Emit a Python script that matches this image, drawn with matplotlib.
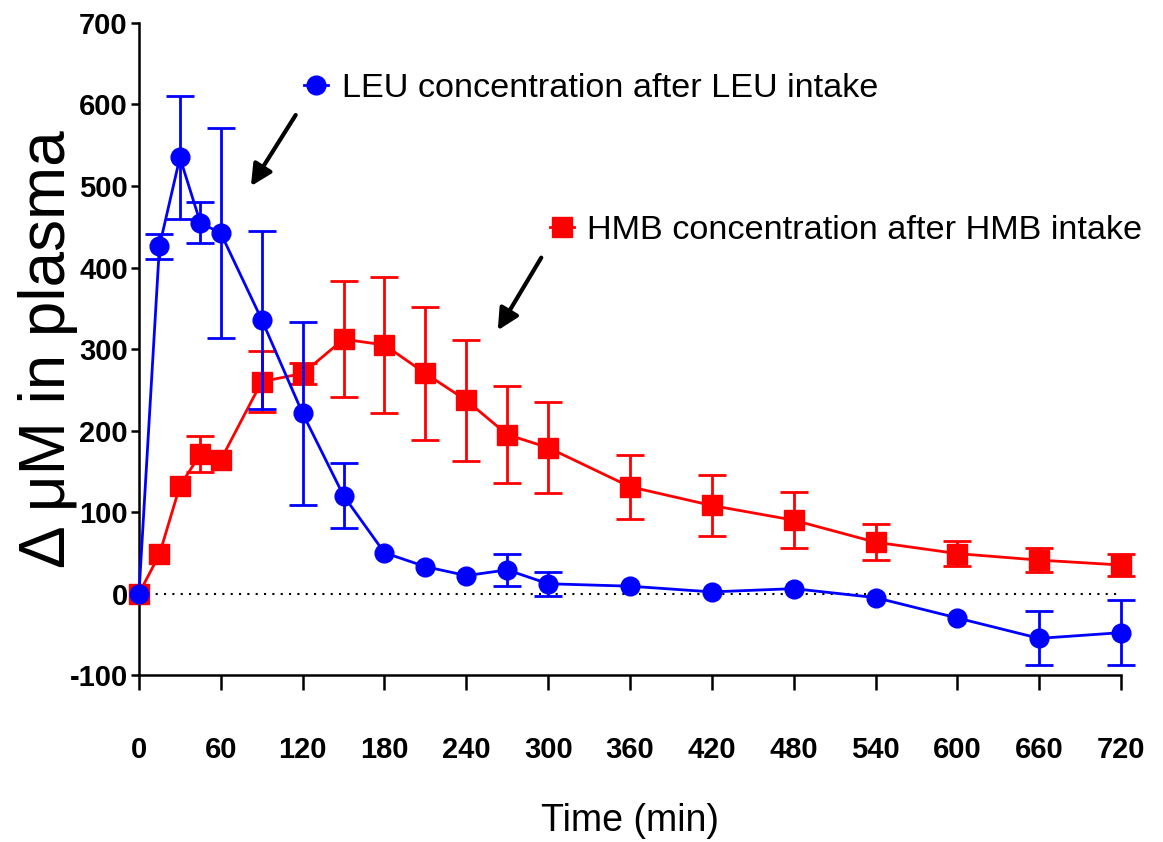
import numpy as np
import matplotlib
matplotlib.use("Agg")
import matplotlib.pyplot as plt
from matplotlib.lines import Line2D

plt.rcParams['font.family'] = ['Liberation Sans', 'DejaVu Sans']
plt.rcParams['axes.unicode_minus'] = False

# time points (min)
time = [0, 15, 30, 45, 60, 90, 120, 150, 180, 210, 240, 270, 300,
        360, 420, 480, 540, 600, 660, 720]

# LEU concentration after LEU intake
leu = [0, 426, 535, 455, 442, 336, 221, 120, 50, 33, 22, 29, 12,
       9, 2, 6, -5, -30, -55, -48]
leu_err = [0, 15, 75, 25, 129, 109, 112, 40, 0, 0, 0, 20, 15,
           0, 0, 0, 0, 0, 33, 40]

# HMB concentration after HMB intake
hmb = [0, 48, 132, 171, 164, 260, 270, 312, 305, 270, 237, 195, 179,
       131, 108, 90, 63, 49, 41, 35]
hmb_err = [0, 0, 0, 22, 0, 37, 13, 71, 83, 82, 74, 60, 56,
           39, 38, 34, 22, 15, 15, 13]

xticks = list(range(0, 721, 60))
yticks = list(range(-100, 701, 100))

fig = plt.figure(figsize=(11.63, 8.42), dpi=100)
ax = fig.add_axes([0.1195, 0.1983, 0.8444, 0.7744])

# zero reference line
ax.plot([time[0], time[-1]], [0, 0], color='black', linestyle=(0, (1, 3)),
        linewidth=1.5, zorder=1)


def draw_series(x, y, err, color, marker, ms, z):
    x = np.array(x)
    y = np.array(y)
    err = np.array(err)
    m = err > 0
    # error bars only where they exist
    ax.errorbar(x[m], y[m], yerr=err[m], fmt='none', ecolor=color,
                elinewidth=2, capsize=10, capthick=2, clip_on=False,
                zorder=z)
    ax.plot(x, y, color=color, marker=marker, markersize=ms, linewidth=2,
            clip_on=False, zorder=z + 0.5)


draw_series(time, hmb, hmb_err, '#ff0000', 's', 14, 3)
draw_series(time, leu, leu_err, '#0000ff', 'o', 13.5, 4)

ax.set_xlim(0, 720)
ax.set_ylim(-100, 700)
ax.set_xticks(xticks)
ax.set_yticks(yticks)

for s in ['top', 'right']:
    ax.spines[s].set_visible(False)
for s in ['left', 'bottom']:
    ax.spines[s].set_linewidth(1.8)

ax.tick_params(axis='x', direction='out', length=11, width=1.8, pad=33,
               labelsize=21)
ax.tick_params(axis='y', direction='out', length=6, width=1.8, pad=2,
               labelsize=21)
for lab in ax.get_xticklabels() + ax.get_yticklabels():
    lab.set_fontweight('bold')

ax.set_xlabel('Time (min)', fontsize=27, labelpad=28)
ax.set_ylabel('Δ μM in plasma', fontsize=46)
ax.yaxis.set_label_coords(-0.062, 0.5)

# labels with arrows
leu_handle = Line2D([], [], color='#0000ff', marker='o', markersize=13.5,
                    linewidth=2)
hmb_handle = Line2D([], [], color='#ff0000', marker='s', markersize=14,
                    linewidth=2)

leg1 = ax.legend(handles=[leu_handle],
                 labels=['LEU concentration after LEU intake'],
                 loc='center left', bbox_to_anchor=(121, 620),
                 bbox_transform=ax.transData, frameon=False, fontsize=24.7,
                 handlelength=0.7, handletextpad=0.4, borderpad=0,
                 borderaxespad=0)
ax.add_artist(leg1)
ax.legend(handles=[hmb_handle],
          labels=['HMB concentration after HMB intake'],
          loc='center left', bbox_to_anchor=(301, 445),
          bbox_transform=ax.transData, frameon=False, fontsize=24.7,
          handlelength=0.7, handletextpad=0.4, borderpad=0,
          borderaxespad=0)

arrow = dict(arrowstyle='-|>', color='black', lw=3, mutation_scale=32)
ax.annotate('', xy=(81, 497), xytext=(116, 590), arrowprops=arrow)
ax.annotate('', xy=(262, 320), xytext=(296, 415), arrowprops=arrow)

fig.savefig('out.png', dpi=100)
